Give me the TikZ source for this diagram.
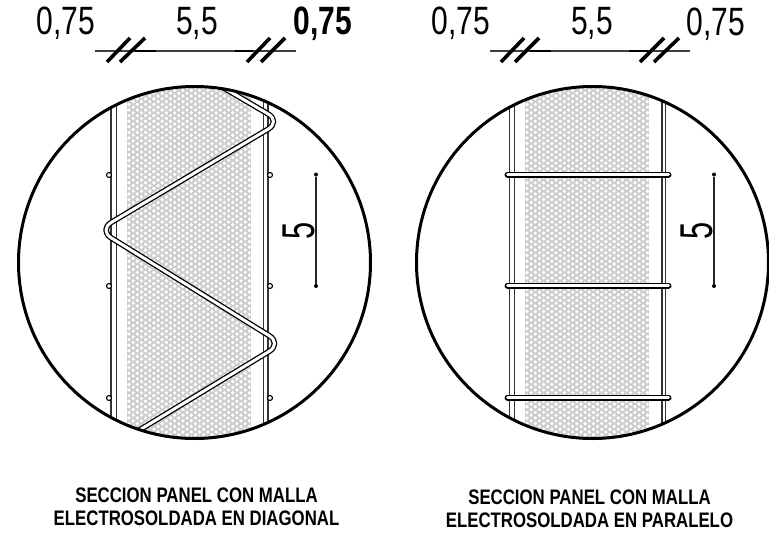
\documentclass[tikz,border=0pt]{standalone}
\usepackage{fontspec}
\setmainfont{Liberation Sans}
\newfontfamily\narrowf[FakeStretch=0.76]{Liberation Sans}
\newfontfamily\narrowb[FakeStretch=0.76]{Liberation Sans Bold}
\newfontfamily\narrowv[FakeStretch=0.67]{Liberation Sans}
\newfontfamily\captf[FakeStretch=0.8]{Liberation Sans Bold}
\definecolor{meshgrey}{HTML}{CDCDCD}
\tikzset{
  x=1pt,y=-1pt,
  dimtext/.style={inner sep=0pt,font=\narrowf\fontsize{39.5}{39.5}\selectfont},
  dimbold/.style={inner sep=0pt,font=\narrowb\fontsize{39.5}{39.5}\selectfont},
  vertdim/.style={inner sep=0pt,rotate=90,font=\narrowv\fontsize{46}{46}\selectfont},
  capt/.style={inner sep=0pt,align=center,font=\captf\fontsize{21}{23}\selectfont},
  dimline/.style={line width=1.2pt,black!75},
  dimthick/.style={line width=1.6pt,black},
  slash/.style={line width=3.6pt,black},
  vline/.style={line width=1.1pt,black!85},
  bar/.style={line width=1.6pt,black!80},
  outerc/.style={line width=3pt,black},
  knot/.style={draw=black,line width=1.1pt,fill=white,circle,inner sep=0pt,minimum size=5pt},
  enddot/.style={fill=black,circle,inner sep=0pt,minimum size=4pt}
}
\newcommand{\meshfill}[2]{%
  \fill[meshgrey] (#1,80) rectangle (#2,445);
  \fill[white]
  \foreach \r in {0,...,129}{
    \foreach \c in {0,...,15}{
      ({#1+2+\c*8.3+mod(\r,2)*4.15},{82+\r*2.8}) circle (1.85)
    }
  };
}
\begin{document}
\begin{tikzpicture}
\useasboundingbox[fill=white] (0,0) rectangle (769,533);
% ---------- left detail
\begin{scope}
  \clip (194.5,262.5) circle (176);
  \begin{scope}
    \clip (127,80) rectangle (251,445);
    \meshfill{127}{251}
  \end{scope}
  \draw[bar] (111,80) -- (111,445) (116.5,80) -- (116.5,445);
  \draw[bar] (263.5,80) -- (263.5,445) (268,80) -- (268,445);
  \draw[line width=5.6pt,black,rounded corners=15pt,line join=round]
    (212,81) -- (281,121.5) -- (98.5,230) -- (282,343.6) -- (128,437);
  \draw[line width=3pt,white,rounded corners=15pt,line join=round]
    (212,81) -- (281,121.5) -- (98.5,230) -- (282,343.6) -- (128,437);
\end{scope}
\node[knot] (kl1) at (109,175) {};
\node[knot] (kl2) at (109,286) {};
\node[knot] (kl3) at (109,398) {};
\node[knot] (kr1) at (270,175) {};
\node[knot] (kr2) at (270,286) {};
\node[knot] (kr3) at (270,398) {};
\draw[outerc] (194.5,262.5) circle (176);
% top dimensions, left
\coordinate (a1) at (95,51); \coordinate (a2) at (296,51);
\draw[dimline] (a1) -- (a2);
\draw[dimthick] (135,51) -- (156,51) (235,51) -- (253,51);
\draw[slash] (107,62) -- (130,38) (120,62) -- (145,38) (247,62) -- (270,38) (261,62) -- (285,38);
\node[dimtext] (t1) at (66,23) {0,75};
\node[dimtext] (t2) at (197,23) {5,5};
\node[dimbold] (t3) at (323,24) {0,75};
\node[enddot] (d1) at (316,174.5) {};
\node[enddot] (d2) at (316,286) {};
\draw[vline] (d1) -- (d2);
\node[vertdim] (t4) at (298.5,230.5) {5};
\node[capt] (c1) at (196.5,506.5) {SECCION PANEL CON MALLA\\ELECTROSOLDADA EN DIAGONAL};
% ---------- right detail
\begin{scope}
  \clip (592.5,262.5) circle (176);
  \begin{scope}
    \clip (525,80) rectangle (649,445);
    \meshfill{525}{649}
  \end{scope}
  \draw[bar] (509.5,80) -- (509.5,445) (514.5,80) -- (514.5,445);
  \draw[bar] (662,80) -- (662,445) (665.5,80) -- (665.5,445);
\end{scope}
\foreach \y in {174.5,285.5,397.5}{
  \draw[line width=6pt,black,line cap=round] (507.5,\y) -- (668.5,\y);
  \draw[line width=3pt,white,line cap=round] (507.5,\y) -- (668.5,\y);
}
\draw[outerc] (592.5,262.5) circle (176);
\coordinate (e1) at (490,51); \coordinate (e2) at (690,51);
\draw[dimline] (e1) -- (e2);
\draw[dimthick] (530,51) -- (551,51) (629,51) -- (648,51);
\draw[slash] (501,62) -- (524,38) (515,62) -- (539,38) (640,62) -- (664,38) (654,62) -- (679,38);
\node[dimtext] (u1) at (461,23) {0,75};
\node[dimtext] (u2) at (592,23) {5,5};
\node[dimtext] (u3) at (716,24) {0,75};
\node[enddot] (f1) at (714,174.5) {};
\node[enddot] (f2) at (714,286) {};
\draw[vline] (f1) -- (f2);
\node[vertdim] (u4) at (697,230.5) {5};
\node[capt] (c2) at (589.5,508.5) {SECCION PANEL CON MALLA\\ELECTROSOLDADA EN PARALELO};
\end{tikzpicture}
\end{document}
